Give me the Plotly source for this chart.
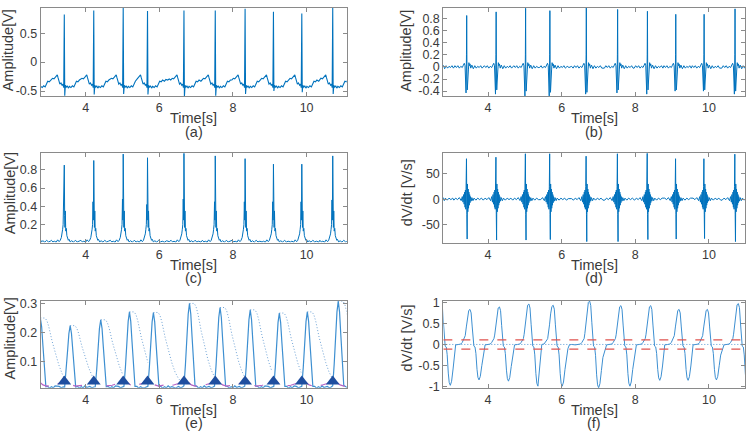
import plotly.graph_objects as go

# ---------------- data ----------------
# R-peak times (first one is just left of the visible window)
beat_t = [2.64, 3.42, 4.22, 5.02, 5.68, 6.67, 7.52, 8.33, 9.10, 9.87, 10.71]

# (a) raw ECG
a_peak = [0.85, 0.82, 0.89, 0.94, 0.88, 0.89, 0.89, 0.92, 0.87, 0.84, 0.94]
a_sdip = [-0.55, -0.58, -0.56, -0.55, -0.56, -0.60, -0.58, -0.55, -0.50, -0.52, -0.55]
a_tmpl = [(-0.44, -0.31), (-0.40, -0.29), (-0.36, -0.31), (-0.32, -0.28), (-0.28, -0.29),
          (-0.24, -0.26), (-0.21, -0.24), (-0.19, -0.22), (-0.17, -0.27), (-0.15, -0.34),
          (-0.12, -0.38), (-0.09, -0.36), (-0.06, -0.40), (-0.035, -0.38), (-0.015, -0.44),
          (0.0, 'P'), (0.012, 'S'), (0.03, -0.40), (0.05, -0.44), (0.08, -0.41),
          (0.11, -0.45), (0.14, -0.42), (0.18, -0.44), (0.22, -0.41), (0.26, -0.43),
          (0.30, -0.37), (0.33, -0.33), (0.37, -0.34), (0.41, -0.31), (0.46, -0.33),
          (0.50, -0.30), (0.55, -0.31)]

# (b) band-passed ECG
b_peak = [0.85, 0.85, 0.91, 0.97, 0.93, 0.98, 0.95, 0.92, 0.87, 0.87, 0.96]
b_neg1 = [-0.43, -0.43, -0.45, -0.48, -0.48, -0.45, -0.43, -0.45, -0.40, -0.40, -0.45]
b_neg2 = [-0.38, -0.38, -0.38, -0.40, -0.42, -0.42, -0.38, -0.38, -0.38, -0.38, -0.40]
b_tmpl = [(-0.40, 0.01), (-0.36, -0.02), (-0.32, 0.02), (-0.28, -0.01), (-0.24, 0.02),
          (-0.20, -0.02), (-0.16, 0.01), (-0.12, -0.01), (-0.09, 0.03), (-0.065, 0.06),
          (-0.045, 0.02), (-0.03, -0.15), (-0.018, 'N1'), (-0.006, 0.2), (0.0, 'P'),
          (0.008, -0.2), (0.016, 'N2'), (0.026, -0.12), (0.034, -0.3), (0.046, -0.05),
          (0.06, 0.07), (0.075, 0.02), (0.09, 0.05), (0.11, -0.02), (0.14, 0.03),
          (0.18, -0.03), (0.22, 0.02), (0.26, -0.02), (0.30, 0.01), (0.34, -0.01),
          (0.38, 0.02), (0.42, -0.02), (0.47, 0.01), (0.52, -0.01)]

# (c) rectified signal
c_peak = [0.85, 0.85, 0.90, 0.97, 0.93, 0.98, 0.95, 0.92, 0.86, 0.86, 0.95]
c_mid = [0.45, 0.45, 0.45, 0.48, 0.42, 0.48, 0.45, 0.45, 0.45, 0.45, 0.47]
c_tmpl = [(-0.40, 0.015), (-0.35, 0.03), (-0.31, 0.012), (-0.27, 0.02), (-0.22, 0.01),
          (-0.18, 0.035), (-0.14, 0.015), (-0.11, 0.03), (-0.08, 0.06), (-0.06, 0.10),
          (-0.045, 0.15), (-0.032, 0.2), (-0.02, 'M'), (-0.01, 0.25), (0.0, 'P'),
          (0.01, 0.30), (0.018, 0.17), (0.028, 0.35), (0.04, 0.13), (0.055, 0.16),
          (0.07, 0.08), (0.09, 0.06), (0.11, 0.03), (0.13, 0.04), (0.16, 0.012),
          (0.20, 0.025), (0.25, 0.01), (0.30, 0.03), (0.35, 0.012), (0.40, 0.02),
          (0.46, 0.01), (0.52, 0.025)]

# (d) derivative
d_pos = [80, 80, 83, 90, 90, 85, 90, 91, 80, 80, 89]
d_neg = [-79, -79, -81, -81, -80, -84, -84, -80, -79, -78, -84]
d_tmpl = [(-0.40, 1), (-0.35, -2), (-0.30, 2), (-0.25, -1), (-0.20, 3), (-0.15, -3),
          (-0.12, 5), (-0.10, -6), (-0.085, 9), (-0.07, -10), (-0.055, 14), (-0.045, -16),
          (-0.035, 18), (-0.025, -20), (-0.015, 25), (-0.006, 'P'), (0.004, -30),
          (0.012, 'N'), (0.02, 30), (0.03, -25), (0.04, 20), (0.05, -18), (0.06, 14),
          (0.07, -12), (0.08, 9), (0.09, -7), (0.10, 5), (0.12, -4), (0.14, 3),
          (0.17, -3), (0.20, 2), (0.25, -2), (0.30, 2), (0.35, -1), (0.40, 2),
          (0.45, -2), (0.50, 1)]

# (e) integrated energy, adaptive threshold, noise level, detections
e_peak_t = [2.77, 3.58, 4.41, 5.19, 5.84, 6.82, 7.65, 8.47, 9.26, 10.02, 10.86]
e_peak_v = [0.25, 0.224, 0.244, 0.271, 0.269, 0.300, 0.286, 0.278, 0.267, 0.271, 0.308]
e_tmpl = [(-0.45, 0.014), (-0.38, 0.01), (-0.30, 0.016), (-0.24, 0.011), (-0.19, 0.014),
          (-0.15, ('F', 0.06)), (-0.11, ('F', 0.3)), (-0.07, ('F', 0.62)),
          (-0.035, ('F', 0.88)), (0.0, 'F'), (0.035, ('F', 0.88)), (0.07, ('F', 0.62)),
          (0.11, ('F', 0.3)), (0.15, ('F', 0.06)), (0.20, 0.016), (0.25, 0.01),
          (0.30, 0.015), (0.35, 0.011), (0.40, 0.018), (0.45, 0.012), (0.50, 0.015),
          (0.55, 0.01)]
thr_tmpl = [(0.0, 1.0), (0.13, 1.0), (0.18, 0.96), (0.23, 0.88), (0.32, 0.68),
            (0.41, 0.50), (0.50, 0.36), (0.59, 0.24), (0.68, 0.16), (0.77, 0.11),
            (0.86, 0.08), (0.95, 0.06)]
noise_tmpl = [(-0.30, 0.02), (-0.15, 0.026), (-0.05, 0.034), (0.05, 0.036),
              (0.12, 0.03), (0.20, 0.021), (0.30, 0.017), (0.40, 0.019), (0.50, 0.022)]
tri_y = [0.033] * 10

# (f) derivative of energy with +/- thresholds
f_pos = [1.0, 0.84, 0.90, 0.97, 0.94, 1.04, 0.93, 0.93, 0.84, 0.84, 0.98]
f_neg = [-0.98, -0.85, -0.88, -1.0, -1.0, -1.04, -1.0, -0.86, -0.86, -0.85, -1.0]
f_tmpl = [(-0.40, 0.0), (-0.30, -0.01), (-0.22, 0.0), (-0.16, 0.01), (-0.12, 0.05),
          (-0.10, 0.09), (-0.08, 0.11), (-0.06, 0.14), (-0.04, ('A', 0.25)),
          (-0.01, ('A', 0.5)), (0.02, ('A', 0.78)), (0.055, ('A', 0.97)), (0.09, 'A'),
          (0.12, ('A', 0.9)), (0.15, ('A', 0.5)), (0.175, 0.02), (0.195, -0.04),
          (0.225, -0.06), (0.25, ('B', 0.25)), (0.28, ('B', 0.7)), (0.305, ('B', 0.93)),
          (0.335, 'B'), (0.37, ('B', 0.9)), (0.41, ('B', 0.6)), (0.45, ('B', 0.3)),
          (0.49, ('B', 0.1)), (0.53, -0.01), (0.58, 0.0), (0.64, -0.01)]
f_thr = [0.11, -0.11]

x_ticks = [4, 6, 8, 10]
labels = ['(a)', '(b)', '(c)', '(d)', '(e)', '(f)']


# ---------------- helpers ----------------
def build(centers, tmpl, params, fp=0.45, fn=0.55):
    xs, ys = [], []
    n = len(centers)
    for i, c in enumerate(centers):
        lo = -(c - centers[i - 1]) * fp if i > 0 else -9
        hi = (centers[i + 1] - c) * fn if i < n - 1 else 9
        for dt, v in tmpl:
            if lo <= dt < hi:
                if isinstance(v, str):
                    v = params[v][i]
                elif isinstance(v, tuple):
                    v = params[v[0]][i] * v[1]
                xs.append(c + dt)
                ys.append(v)
    return xs, ys


BLUE = '#0072BD'
fig = go.Figure()

LX = [0.0543, 0.4623]
RX = [0.5911, 0.9933]
ROWS = [[0.787, 0.9938], [0.4436, 0.653], [0.1034, 0.3066]]
LRANGE = [2.78, 11.09]
RRANGE = [2.785, 10.98]

FONT = 'Liberation Sans, Arial, sans-serif'
ax_font = dict(family=FONT, size=12.5, color='#3a3a3a')
AXC = '#8a8a8a'


def add_axes(idx, dom_x, dom_y, xr, yr, ytv, ytt):
    sx = '' if idx == 1 else str(idx)
    common = dict(ticks='inside', ticklen=4, tickcolor=AXC, showline=True, linecolor=AXC,
                  linewidth=1, mirror='ticks', showgrid=False, zeroline=False, tickfont=ax_font)
    fig.update_layout(**{
        'xaxis' + sx: dict(domain=dom_x, range=xr, anchor='y' + sx, tickvals=x_ticks, **common),
        'yaxis' + sx: dict(domain=dom_y, range=yr, anchor='x' + sx, tickvals=ytv, ticktext=ytt,
                           **common),
    })


add_axes(1, LX, ROWS[0], LRANGE, [-0.585, 0.94], [-0.5, 0, 0.5], ['-0.5', '0', '0.5'])
add_axes(2, RX, ROWS[0], RRANGE, [-0.48, 0.98], [-0.4, -0.2, 0, 0.2, 0.4, 0.6, 0.8],
         ['-0.4', '-0.2', '0', '0.2', '0.4', '0.6', '0.8'])
add_axes(3, LX, ROWS[1], LRANGE, [0.005, 0.98], [0.2, 0.4, 0.6, 0.8], ['0.2', '0.4', '0.6', '0.8'])
add_axes(4, RX, ROWS[1], RRANGE, [-86, 91], [-50, 0, 50], ['-50', '0', '50'])
add_axes(5, LX, ROWS[2], LRANGE, [0.011, 0.308], [0.1, 0.2, 0.3], ['0.1', '0.2', '0.3'])
add_axes(6, RX, ROWS[2], RRANGE, [-1.04, 1.04], [-1, -0.5, 0, 0.5, 1], ['-1', '-0.5', '0', '0.5', '1'])

# (a)
x, y = build(beat_t, a_tmpl, {'P': a_peak, 'S': a_sdip})
fig.add_trace(go.Scatter(x=x, y=y, mode='lines', line=dict(color=BLUE, width=1.1), xaxis='x', yaxis='y'))
# (b)
x, y = build(beat_t, b_tmpl, {'P': b_peak, 'N1': b_neg1, 'N2': b_neg2})
fig.add_trace(go.Scatter(x=x, y=y, mode='lines', line=dict(color=BLUE, width=1), xaxis='x2', yaxis='y2'))
# (c)
x, y = build(beat_t, c_tmpl, {'P': c_peak, 'M': c_mid})
fig.add_trace(go.Scatter(x=x, y=y, mode='lines', line=dict(color=BLUE, width=1), xaxis='x3', yaxis='y3'))
# (d)
x, y = build(beat_t, d_tmpl, {'P': d_pos, 'N': d_neg})
fig.add_trace(go.Scatter(x=x, y=y, mode='lines', line=dict(color=BLUE, width=1), xaxis='x4', yaxis='y4'))

# (e)
x, y = build(e_peak_t, e_tmpl, {'F': e_peak_v})
fig.add_trace(go.Scatter(x=x, y=y, mode='lines', line=dict(color='#3d8fd1', width=1.2), xaxis='x5', yaxis='y5'))
tx, ty = [], []
for i, p in enumerate(e_peak_t):
    end = e_peak_t[i + 1] - 0.12 if i < len(e_peak_t) - 1 else 99
    for dt, fr in thr_tmpl:
        if p + dt <= end:
            tx.append(p + dt)
            ty.append(e_peak_v[i] * fr)
    tx.append(None)
    ty.append(None)
fig.add_trace(go.Scatter(x=tx, y=ty, mode='lines', line=dict(color='#6fa3d6', width=1, dash='1px,2px'),
                         xaxis='x5', yaxis='y5'))
x, y = build(beat_t, noise_tmpl, {})
fig.add_trace(go.Scatter(x=x, y=y, mode='lines', line=dict(color='#b865c4', width=1.2, dash='dash'),
                         xaxis='x5', yaxis='y5'))
fig.add_trace(go.Scatter(x=beat_t[1:], y=tri_y, mode='markers',
                         marker=dict(symbol='triangle-up', size=12, color='#1f4e9f'),
                         xaxis='x5', yaxis='y5'))

# (f)
x, y = build(beat_t, f_tmpl, {'A': f_pos, 'B': f_neg})
fig.add_trace(go.Scatter(x=x, y=y, mode='lines', line=dict(color='#3d8fd1', width=1), xaxis='x6', yaxis='y6'))
for v in f_thr:
    fig.add_trace(go.Scatter(x=RRANGE, y=[v, v], mode='lines',
                             line=dict(color='#e0534f', width=1.2, dash='dash'), xaxis='x6', yaxis='y6'))
fig.add_trace(go.Scatter(x=RRANGE, y=[0, 0], mode='lines',
                         line=dict(color='#5a9bd5', width=1, dash='1px,2px'), xaxis='x6', yaxis='y6'))

# ---------------- titles as annotations ----------------
H, W = 438.0, 750.0
tfont = dict(family=FONT, size=14.5, color='#3a3a3a')
ann = []
bottoms = [93.3, 243.7, 392.7]
centers_x = [193.7, 594.0]
for r in range(3):
    for c in range(2):
        ann.append(dict(x=centers_x[c] / W, y=1 - (bottoms[r] + 23) / H, xref='paper', yref='paper',
                        text='Time[s]', showarrow=False, font=tfont, xanchor='center', yanchor='middle'))
        ann.append(dict(x=centers_x[c] / W, y=1 - (bottoms[r] + 36.5) / H, xref='paper', yref='paper',
                        text=labels[2 * r + c], showarrow=False, font=tfont, xanchor='center',
                        yanchor='middle'))
ytitles = [('Amplitude[V]', 7.5, 47), ('Amplitude[V]', 406, 47),
           ('Amplitude[V]', 10, 193), ('dV/dt [V/s]', 407, 193),
           ('Amplitude[V]', 10, 342), ('dV/dt [V/s]', 407, 342)]
for t, px, py in ytitles:
    ann.append(dict(x=px / W, y=1 - py / H, xref='paper', yref='paper', text=t, textangle=-90,
                    showarrow=False, font=tfont, xanchor='center', yanchor='middle'))

fig.update_layout(width=750, height=438, margin=dict(l=0, r=0, t=0, b=0),
                  paper_bgcolor='white', plot_bgcolor='white', showlegend=False,
                  annotations=ann)
fig.write_html('out.html', config={'displayModeBar': False},
               post_script="document.body.style.margin='0px';")
